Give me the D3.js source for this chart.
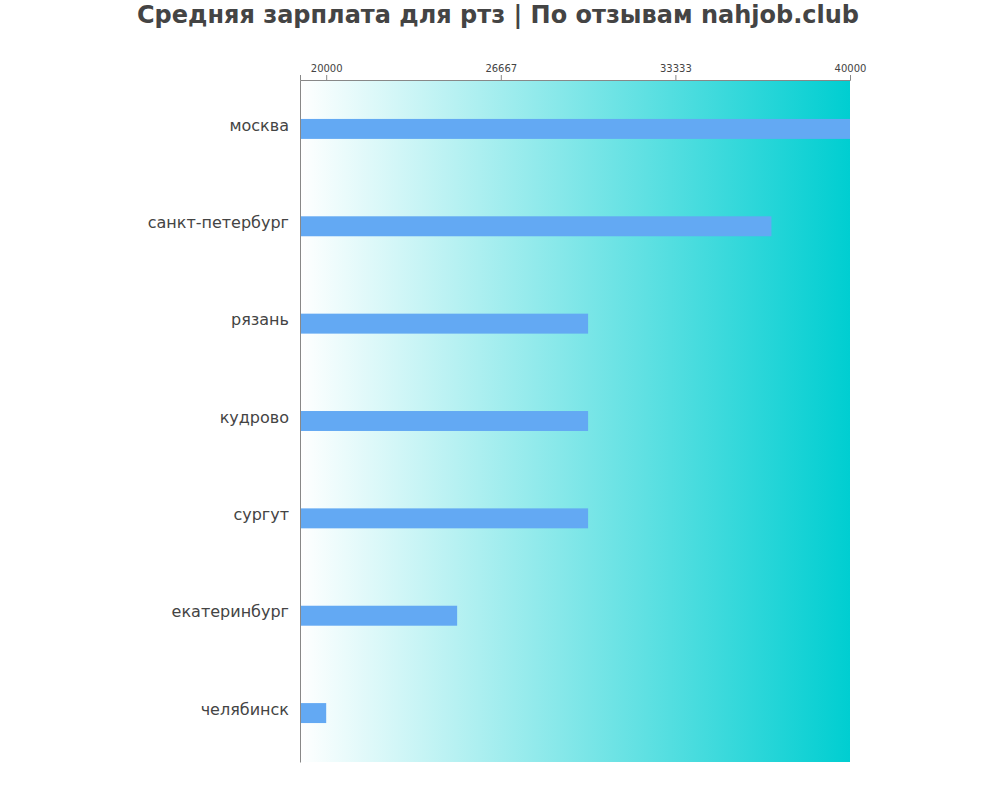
<!DOCTYPE html>
<html><head><meta charset="utf-8">
<script src="https://cdn.jsdelivr.net/npm/d3@7"></script>
<style>body{margin:0;background:#fff;font-family:"DejaVu Sans",sans-serif}</style>
</head><body><svg id="c" width="1000" height="800"></svg>
<script>
const categories=["москва","санкт-петербург","рязань","кудрово","сургут","екатеринбург","челябинск"];
const values=[40000,37000,30000,30000,30000,25000,20000];
const tickValues=[20000,26667,33333,40000];
const title="Средняя зарплата для ртз | По отзывам nahjob.club";

const svg=d3.select("#c");
const m={l:300,r:150,t:80,b:38};
const W=1000-m.l-m.r,H=800-m.t-m.b;
const x=d3.scaleLinear().domain([19000,40000]).range([0,W]);
const y=d3.scaleBand().domain(categories).range([0,H]).paddingInner(0.795).paddingOuter(0.4);
const defs=svg.append("defs");
const gr=defs.append("linearGradient").attr("id","bg");
gr.append("stop").attr("offset","0%").attr("stop-color","#ffffff");
gr.append("stop").attr("offset","100%").attr("stop-color","#00ced1");
const g=svg.append("g").attr("transform",`translate(${m.l},${m.t})`);
g.append("rect").attr("width",W).attr("height",H).attr("fill","url(#bg)");
g.selectAll(".bar").data(values).join("rect")
 .attr("x",0).attr("y",(d,i)=>y(categories[i])).attr("height",y.bandwidth())
 .attr("width",d=>x(d)).attr("fill","#63a9f3");
const ax=g.append("g").call(d3.axisTop(x).tickValues(tickValues).tickSize(5).tickFormat(d3.format("d")));
ax.select(".domain").attr("stroke","#888");
ax.selectAll(".tick line").attr("stroke","#888");
ax.selectAll("text").attr("font-size",10).attr("fill","#444").attr("font-family","DejaVu Sans");
const ay=g.append("g").call(d3.axisLeft(y).tickSize(0).tickPadding(11));
ay.select(".domain").attr("stroke","#888");
ay.selectAll("text").attr("font-size",16).attr("dy","0.1em").attr("fill","#444").attr("font-family","DejaVu Sans");
svg.append("text").attr("x",498).attr("y",23).attr("text-anchor","middle")
 .attr("font-size",24).attr("font-weight","bold").attr("fill","#444").text(title);
</script></body></html>
